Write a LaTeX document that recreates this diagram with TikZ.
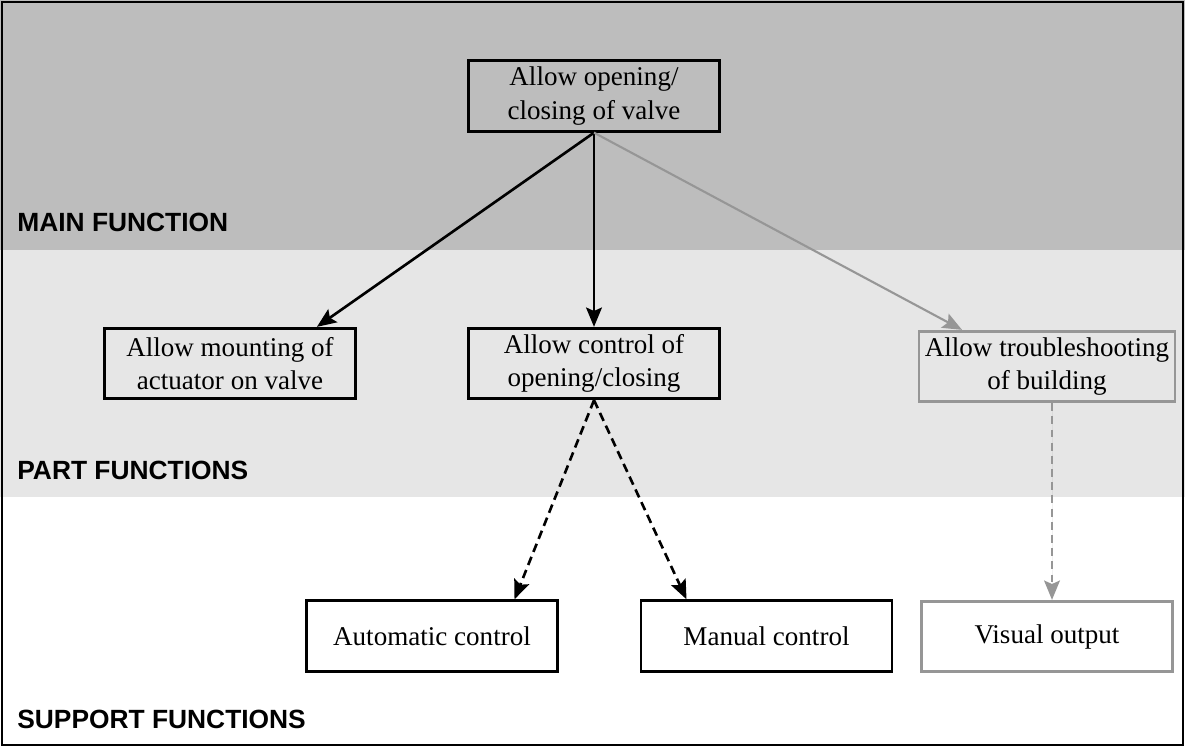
\documentclass[tikz,border=0pt]{standalone}
\usepackage{fontspec}
\setmainfont{Liberation Serif}
\setsansfont{Liberation Sans}
\usetikzlibrary{arrows.meta}
\definecolor{bandmain}{RGB}{189,189,189}
\definecolor{bandpart}{RGB}{230,230,230}
\definecolor{fadegray}{RGB}{150,150,150}
\tikzstyle{func} = [rectangle, minimum width=5.02cm, minimum height=1.41cm, text centered, align=center, draw=black, line width=1.6pt, font=\fontsize{15.4pt}{19pt}\selectfont]
\tikzstyle{funcgray} = [func, draw=fadegray]
\tikzstyle{level} = [anchor=base west, inner sep=0pt, font=\sffamily\bfseries\fontsize{15pt}{18pt}\selectfont]
\tikzstyle{arrow} = [line width=1.5pt,-{Stealth[length=11pt,width=9pt,inset=2pt]}]
\tikzstyle{grayarrow} = [arrow, line width=1.2pt, draw=fadegray, fill=fadegray]
\tikzstyle{dasharrow} = [arrow, dash pattern=on 5pt off 3pt]

\begin{document}
\begin{tikzpicture}[node distance=5.4cm]
    \useasboundingbox (0,0) rectangle (23.7,-14.94);
    % Bands
    \fill[bandmain] (0,0) rectangle (23.7,-5.0);
    \fill[bandpart] (0,-5.0) rectangle (23.7,-9.94);
    \draw[line width=1.6pt] (0.04,-0.04) rectangle (23.66,-14.9);
    \node (lmain) [level] at (0.34,-4.62) {MAIN FUNCTION};
    \node (lpart) [level] at (0.34,-9.58) {PART FUNCTIONS};
    \node (lsupport) [level] at (0.34,-14.56) {SUPPORT FUNCTIONS};

    % Nodes
    \node (top) [func] at (11.88,-1.92) {Allow opening/\\closing of valve};
    \node (ctrl) [func, below of=top, yshift=0.05cm] {Allow control of\\opening/closing};
    \node (mount) [func, left of=ctrl, xshift=-1.88cm] {Allow mounting of\\actuator on valve};
    \node (trouble) [funcgray, right of=ctrl, xshift=3.66cm, yshift=-0.06cm] {Allow troubleshooting\\of building};
    \node (auto) [func, below of=ctrl, xshift=-3.24cm, yshift=-0.05cm] {Automatic control};
    \node (manual) [func, below of=ctrl, xshift=3.45cm, yshift=-0.05cm] {Manual control};
    \node (visual) [funcgray, below of=trouble] {Visual output};

    % Arrows
    \draw [arrow] (top.south) -- ([xshift=-0.8cm]mount.north east);
    \draw [arrow] (top.south) -- (ctrl.north);
    \draw [grayarrow] (top.south) -- ([xshift=-1.7cm]trouble.north);
    \draw [dasharrow] (ctrl.south) -- ([xshift=1.65cm]auto.north);
    \draw [dasharrow] (ctrl.south) -- ([xshift=-1.6cm]manual.north);
    \draw [grayarrow, dash pattern=on 4.5pt off 3pt] ([xshift=0.1cm]trouble.south) -- ([xshift=0.1cm]visual.north);
\end{tikzpicture}
\end{document}
